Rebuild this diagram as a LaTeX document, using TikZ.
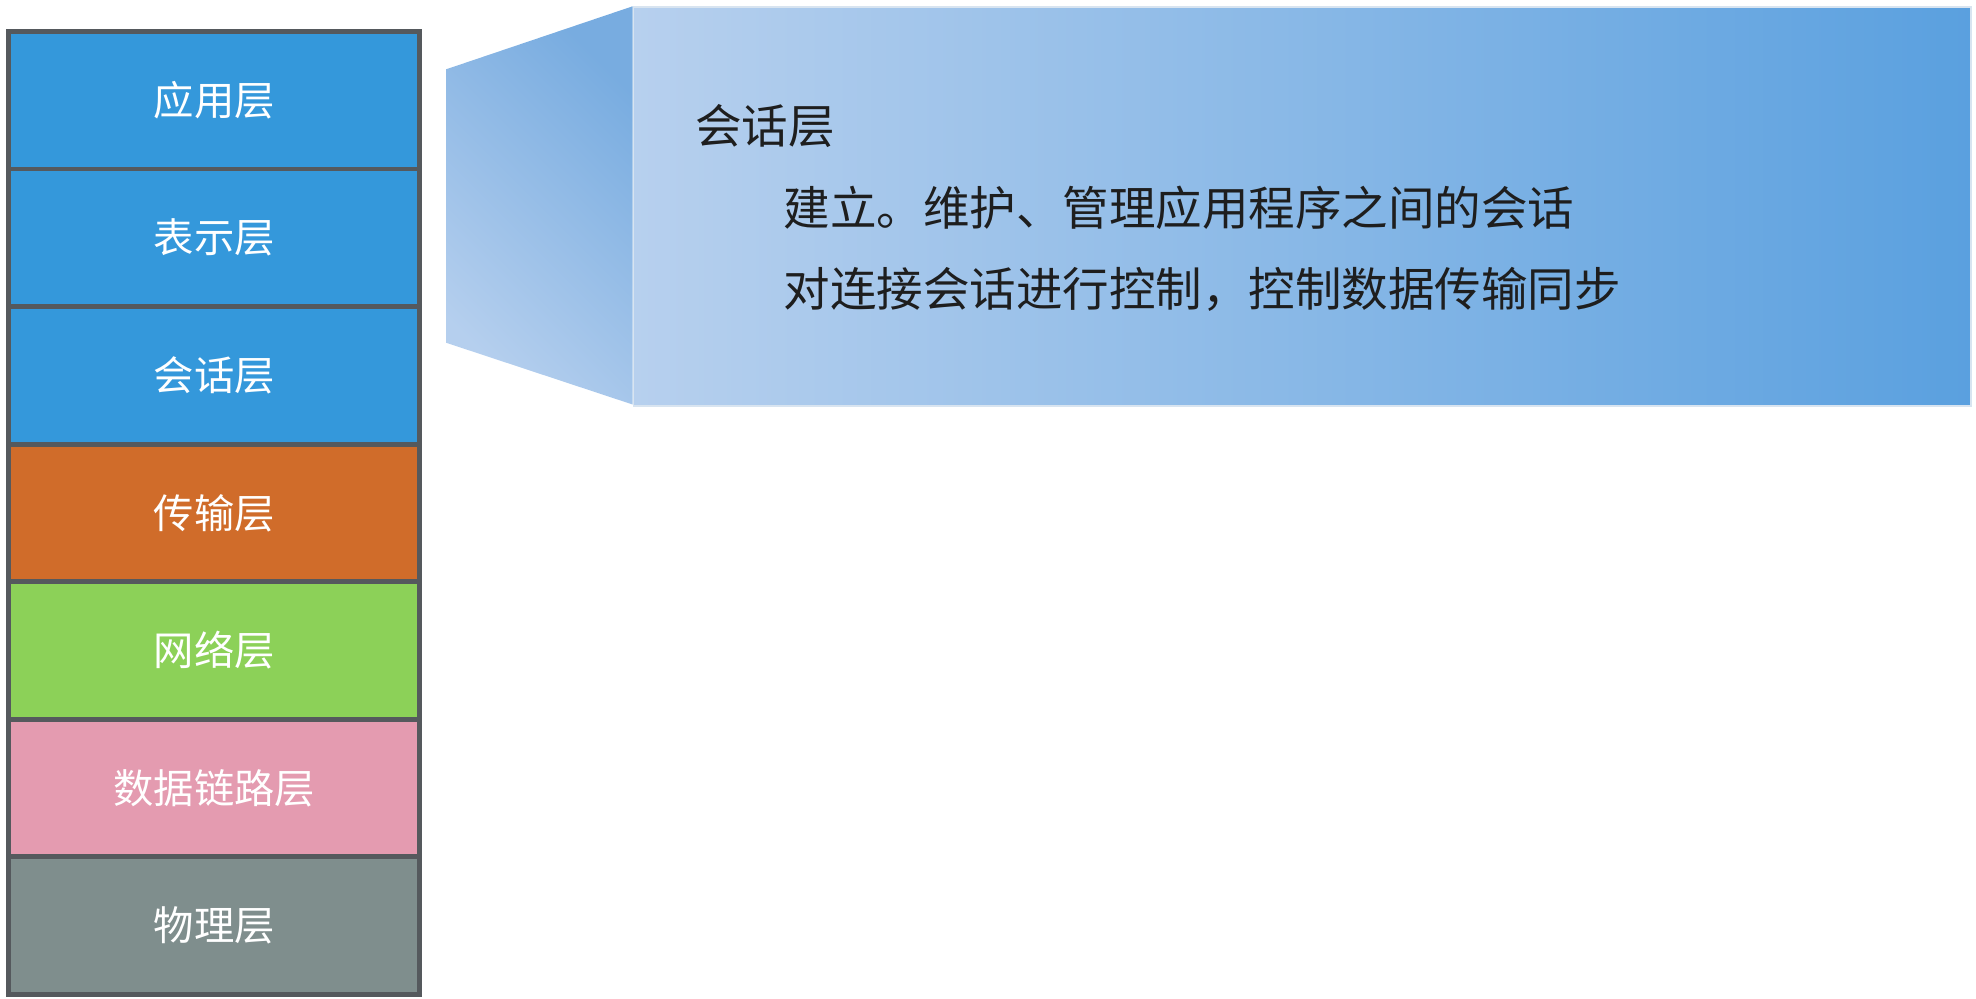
\documentclass[tikz,border=0pt]{standalone}
\usepackage{fontspec}
\setmainfont{Noto Sans CJK SC}
\usepackage{tikz}
\usetikzlibrary{positioning}

\definecolor{layerblue}{HTML}{3498DB}
\definecolor{layerorange}{HTML}{D06C2A}
\definecolor{layergreen}{HTML}{8CD158}
\definecolor{layerpink}{HTML}{E49BB0}
\definecolor{layergray}{HTML}{7F8E8D}
\definecolor{framegray}{HTML}{55595D}
\definecolor{calltop}{HTML}{78ACE0}
\definecolor{callbottom}{HTML}{B5CFEE}
\definecolor{boxleft}{HTML}{B7D0EE}
\definecolor{boxright}{HTML}{5AA0DF}
\definecolor{boxedge}{HTML}{D8E4F0}
\definecolor{notetext}{HTML}{1E1E1E}

\tikzset{
  layer/.style = {draw=framegray, line width=1.1pt, minimum width=3.26cm, minimum height=1.0914cm,
                  inner sep=0pt, outer sep=0pt, text=white, font=\fontsize{9.1}{11}\selectfont},
  note/.style  = {anchor=west, inner sep=0pt, text=notetext, font=\fontsize{10.5}{12}\selectfont}
}

\begin{document}
\begin{tikzpicture}[x=0.01cm, y=-0.01cm]
	\useasboundingbox (0,0) rectangle (1568,792);

	\foreach \name/\txt/\col [count=\i] in {app/应用层/layerblue, pre/表示层/layerblue, ses/会话层/layerblue,
			tra/传输层/layerorange, net/网络层/layergreen, dat/数据链路层/layerpink, phy/物理层/layergray}
		\node[layer, fill=\col] (\name) at (170, {25+109.14*(\i-0.5)}) {\raisebox{-1pt}{\txt}};

	\shade[top color=calltop, bottom color=callbottom, shading angle=-45]
		(354,55) -- (502,5) -- (502,321) -- (354,272) -- cycle;
	\node[draw=boxedge, line width=0.4pt, left color=boxleft, right color=boxright,
		minimum width=10.61cm, minimum height=3.16cm, inner sep=0pt, anchor=north west] (sbox) at (502,5) {};

	\node[note] (title) at (551,100) {会话层};
	\node[note] (line1) at (621,165) {建立。维护、管理应用程序之间的会话};
	\node[note] (line2) at (621,230) {对连接会话进行控制，控制数据传输同步};
\end{tikzpicture}
\end{document}
